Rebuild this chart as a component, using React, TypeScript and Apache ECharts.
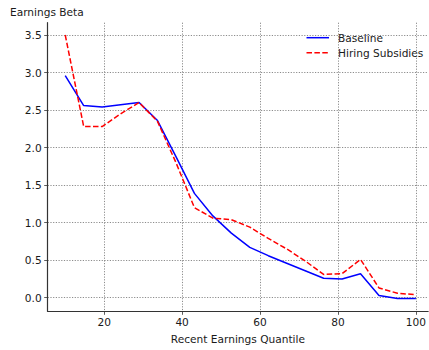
import React, { useEffect, useRef } from "react";
import * as echarts from "echarts";

// Recent earnings quantiles (x positions of both curves)
const quantiles = [
  10, 14.74, 19.47, 24.21, 28.95, 33.68, 38.42, 43.16, 47.89, 52.63,
  57.37, 62.11, 66.84, 71.58, 76.32, 81.05, 85.79, 90.53, 95.26, 100,
];

const baseline = [
  2.96, 2.56, 2.54, 2.57, 2.6, 2.36, 1.88, 1.39, 1.09, 0.86,
  0.67, 0.56, 0.46, 0.36, 0.26, 0.25, 0.32, 0.03, -0.01, -0.01,
];

const hiringSubsidies = [
  3.5, 2.28, 2.28, 2.45, 2.6, 2.35, 1.8, 1.2, 1.06, 1.04,
  0.94, 0.79, 0.65, 0.49, 0.31, 0.32, 0.51, 0.13, 0.06, 0.04,
];

const xTicks = [20, 40, 60, 80, 100];
const yTicks = [0, 0.5, 1, 1.5, 2, 2.5, 3, 3.5];

const FONT = "DejaVu Sans";
const FONT_SIZE = 10.6;
const TEXT = "#1a1a1a";

export default function App() {
  const ref = useRef<HTMLDivElement>(null);

  useEffect(() => {
    if (!ref.current) return;
    const chart = echarts.init(ref.current, null, { renderer: "svg" });

    const gridLine = {
      show: true,
      lineStyle: { color: "#6e6e6e", width: 0.8, type: [1.2, 1.5] as any },
    };

    chart.setOption({
      animation: false,
      backgroundColor: "#ffffff",
      grid: { left: 47.7, top: 22.7, right: 0, bottom: 38.7 },
      xAxis: {
        type: "value",
        min: 5.5,
        max: 103.15,
        name: "Recent Earnings Quantile",
        nameLocation: "middle",
        nameGap: 22.5,
        nameTextStyle: { fontFamily: FONT, fontSize: FONT_SIZE, color: TEXT, align: "center" },
        axisLine: { show: true, onZero: false, lineStyle: { color: "#333", width: 1.2 } },
        axisTick: { show: true, length: 3.5, customValues: xTicks, lineStyle: { color: "#333", width: 0.8 } },
        axisLabel: {
          customValues: xTicks,
          fontFamily: FONT,
          fontSize: FONT_SIZE,
          color: TEXT,
          margin: 5,
        },
        splitLine: gridLine,
      },
      yAxis: {
        type: "value",
        min: -0.181,
        max: 3.664,
        axisLine: { show: true, onZero: false, lineStyle: { color: "#333", width: 1.2 } },
        axisTick: { show: true, length: 3.5, customValues: yTicks, lineStyle: { color: "#333", width: 0.8 } },
        axisLabel: {
          customValues: yTicks,
          fontFamily: FONT,
          fontSize: FONT_SIZE,
          color: TEXT,
          margin: 6,
          formatter: (v: number) => v.toFixed(1),
        },
        splitLine: gridLine,
      },
      series: [
        {
          name: "Baseline",
          type: "line",
          data: quantiles.map((q, i) => [q, baseline[i]]),
          showSymbol: false,
          lineStyle: { color: "#0000ff", width: 1.5 },
          z: 3,
        },
        {
          name: "Hiring Subsidies",
          type: "line",
          data: quantiles.map((q, i) => [q, hiringSubsidies[i]]),
          showSymbol: false,
          lineStyle: { color: "#ff0000", width: 1.5, type: [5.5, 2.4] as any },
          z: 4,
        },
      ],
      graphic: [
        {
          type: "text",
          x: 10,
          y: 11.7,
          style: {
            text: "Earnings Beta",
            fontFamily: FONT,
            fontSize: FONT_SIZE,
            fill: TEXT,
            verticalAlign: "middle",
          },
        },
        {
          type: "line",
          shape: { x1: 306.5, y1: 37.7, x2: 329, y2: 37.7 },
          style: { stroke: "#0000ff", lineWidth: 1.5 },
        },
        {
          type: "text",
          x: 338,
          y: 37.7,
          style: {
            text: "Baseline",
            fontFamily: FONT,
            fontSize: FONT_SIZE,
            fill: TEXT,
            verticalAlign: "middle",
          },
        },
        {
          type: "line",
          shape: { x1: 306.5, y1: 52.7, x2: 329, y2: 52.7 },
          style: { stroke: "#ff0000", lineWidth: 1.5, lineDash: [5.5, 2.4] },
        },
        {
          type: "text",
          x: 338,
          y: 52.7,
          style: {
            text: "Hiring Subsidies",
            fontFamily: FONT,
            fontSize: FONT_SIZE,
            fill: TEXT,
            verticalAlign: "middle",
          },
        },
      ],
    });

    return () => chart.dispose();
  }, []);

  return (
    <div
      ref={ref}
      style={{ position: "fixed", left: 0, top: 0, width: 429, height: 350 }}
    />
  );
}
